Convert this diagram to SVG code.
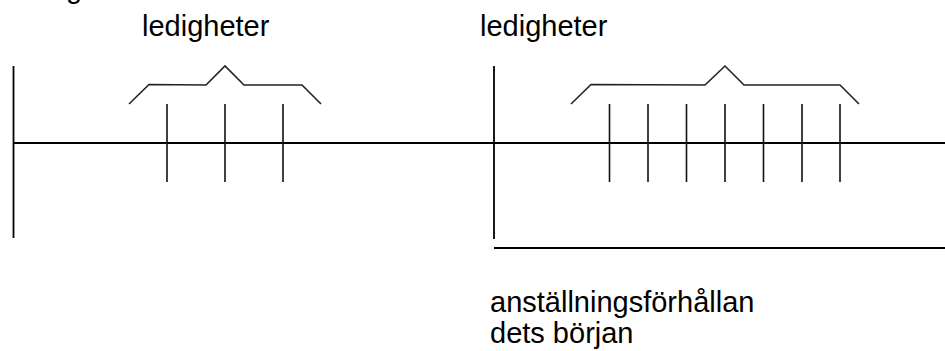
<svg xmlns="http://www.w3.org/2000/svg" width="945" height="351" viewBox="0 0 945 351">
  <style>
    .ln { stroke: #000; stroke-width: 1.8; fill: none; }
    .br { stroke: #222; stroke-width: 1.6; fill: none; stroke-linejoin: miter; }
    .tk { stroke: #111; stroke-width: 1.6; }
    .lbl { font-family: "Liberation Sans", Arial, sans-serif; font-size: 29px; fill: #000; }
  </style>
  <rect width="945" height="351" fill="#fff"/>

  <!-- heading, clipped by the top edge -->
  <text class="lbl" x="66" y="-2">g</text>

  <!-- timeline axes -->
  <g id="axes">
    <line class="ln" x1="13" y1="143" x2="945" y2="143"/>
    <line class="ln" x1="13.5" y1="66" x2="13.5" y2="238"/>
    <line class="ln" x1="494" y1="66" x2="494" y2="239"/>
    <line class="ln" x1="494" y1="248" x2="945" y2="248"/>
  </g>

  <!-- first group of vacancies -->
  <g id="group-left">
    <text class="lbl" x="142" y="36">ledigheter</text>
    <polyline class="br" points="129,104 149,84.5 206,85 225,66 244,85 302,85 321,104"/>
    <line class="tk" x1="167" y1="104" x2="167" y2="182"/>
    <line class="tk" x1="225" y1="104" x2="225" y2="182"/>
    <line class="tk" x1="283" y1="104" x2="283" y2="182"/>
  </g>

  <!-- second group of vacancies -->
  <g id="group-right">
    <text class="lbl" x="480" y="36">ledigheter</text>
    <polyline class="br" points="571,104 591,84.5 705,85 725,66 744,85 840,85 859,104"/>
    <line class="tk" x1="609.5" y1="104" x2="609.5" y2="182"/>
    <line class="tk" x1="648" y1="104" x2="648" y2="182"/>
    <line class="tk" x1="686.5" y1="104" x2="686.5" y2="182"/>
    <line class="tk" x1="725" y1="104" x2="725" y2="182"/>
    <line class="tk" x1="763.5" y1="104" x2="763.5" y2="182"/>
    <line class="tk" x1="802" y1="104" x2="802" y2="182"/>
    <line class="tk" x1="840" y1="104" x2="840" y2="182"/>
  </g>

  <!-- start of employment -->
  <g id="employment-start">
    <text class="lbl" x="490" y="312">anställningsförhållan</text>
    <text class="lbl" x="490" y="343">dets början</text>
  </g>
</svg>
